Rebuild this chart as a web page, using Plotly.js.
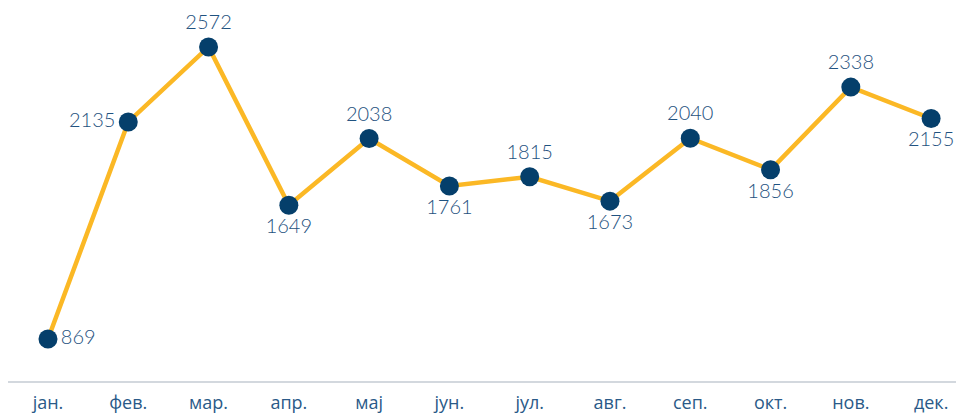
<!DOCTYPE html>
<html><head><meta charset="utf-8">
<script src="https://cdn.plot.ly/plotly-3.0.1.min.js"></script>
<style>html,body{margin:0;padding:0;background:#fff;}#chart{width:956px;height:414px;}</style>
</head><body><div id="chart"></div>
<script>
const months = ["јан.","фев.","мар.","апр.","мај","јун.","јул.","авг.","сеп.","окт.","нов.","дек."];
const values = [869,2135,2572,1649,2038,1761,1815,1673,2040,1856,2338,2155];
const labelPositions = ["middle right","middle left","top center","bottom center","top center","bottom center","top center","bottom center","top center","bottom center","top center","bottom center"];

const trace = {
  x: months.map((m,i)=>i),
  y: values,
  type: "scatter",
  mode: "lines+markers+text",
  text: values.map(String),
  textposition: labelPositions,
  textfont: {family: "Lato, 'Open Sans', sans-serif", size: 20, color: "#1f5280", weight: 300},
  line: {color: "#FBB825", width: 4.5},
  marker: {color: "#053f6b", size: 19},
  cliponaxis: false,
  hoverinfo: "skip"
};
const layout = {
  width: 956, height: 414,
  margin: {l: 8, r: 0, t: 0, b: 33},
  paper_bgcolor: "#fff", plot_bgcolor: "#fff",
  showlegend: false,
  xaxis: {
    range: [-0.498, 11.31],
    tickmode: "array", tickvals: months.map((m,i)=>i), ticktext: months,
    showgrid: false, zeroline: false,
    showline: true, linecolor: "#d3d8de", linewidth: 1.5,
    ticks: "", ticklen: 0, ticklabelstandoff: 5,
    tickfont: {family: "'Open Sans', sans-serif", size: 18, color: "#2a5a88"}
  },
  yaxis: {
    range: [624, 2846],
    visible: false, showgrid: false, zeroline: false
  }
};
Plotly.newPlot("chart", [trace], layout, {staticPlot: true});
</script></body></html>
